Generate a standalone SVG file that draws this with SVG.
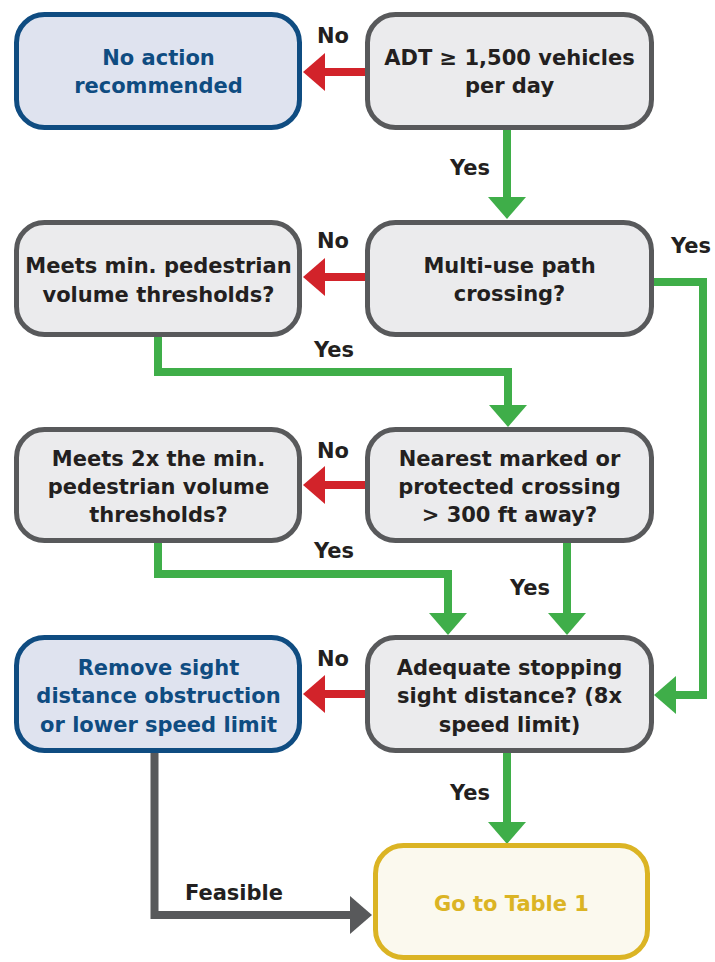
<svg xmlns="http://www.w3.org/2000/svg" width="715" height="962" viewBox="0 0 715 962">
<style>
.box{stroke-width:5}
.g{fill:#ebebed;stroke:#58595b}
.b{fill:#dfe3ef;stroke:#0f4c81}
.y{fill:#fbf9ee;stroke:#dbb424}
text{font-family:"DejaVu Sans","Liberation Sans",Arial,sans-serif;font-weight:bold;text-anchor:middle}
.t{font-size:21px;fill:#231f20}
.tb{font-size:21px;fill:#0f4c81}
.ty{font-size:21px;fill:#dbb424}
.l{font-size:21px;fill:#231f20}
.cg{fill:none;stroke:#3fae49;stroke-width:8}
.cr{fill:none;stroke:#d2232a;stroke-width:8}
.ck{fill:none;stroke:#58595b;stroke-width:8}
</style>
<defs>
<marker id="ag" markerUnits="userSpaceOnUse" viewBox="0 0 22 38" refX="0" refY="19" markerWidth="22" markerHeight="38" orient="auto"><path d="M0,0 L22,19 L0,38 z" fill="#3fae49"/></marker>
<marker id="ar" markerUnits="userSpaceOnUse" viewBox="0 0 22 38" refX="0" refY="19" markerWidth="22" markerHeight="38" orient="auto"><path d="M0,0 L22,19 L0,38 z" fill="#d2232a"/></marker>
<marker id="ak" markerUnits="userSpaceOnUse" viewBox="0 0 22 38" refX="0" refY="19" markerWidth="22" markerHeight="38" orient="auto"><path d="M0,0 L22,19 L0,38 z" fill="#58595b"/></marker>
</defs>
<g id="connectors">
<path class="cr" d="M369,72 H325" marker-end="url(#ar)"/>
<path class="cg" d="M507,130 V197" marker-end="url(#ag)"/>
<path class="cr" d="M369,277 H325" marker-end="url(#ar)"/>
<path class="cg" d="M654,282 H703 V695 H676" marker-end="url(#ag)"/>
<path class="cg" d="M158,337 V372 H508 V405" marker-end="url(#ag)"/>
<path class="cr" d="M369,485 H325" marker-end="url(#ar)"/>
<path class="cg" d="M158,543 V574 H448 V613" marker-end="url(#ag)"/>
<path class="cg" d="M567,543 V613" marker-end="url(#ag)"/>
<path class="cr" d="M369,694 H325" marker-end="url(#ar)"/>
<path class="cg" d="M507,753 V822" marker-end="url(#ag)"/>
<path class="ck" d="M154.5,753 V915 H350" marker-end="url(#ak)"/>
<text class="l" x="333" y="43">No</text>
<text class="l" x="470" y="175">Yes</text>
<text class="l" x="333" y="248">No</text>
<text class="l" x="691" y="253">Yes</text>
<text class="l" x="334" y="357">Yes</text>
<text class="l" x="333" y="458">No</text>
<text class="l" x="334" y="558">Yes</text>
<text class="l" x="530" y="595">Yes</text>
<text class="l" x="333" y="666">No</text>
<text class="l" x="470" y="800">Yes</text>
<text class="l" x="234" y="900">Feasible</text>
</g>
<g id="no-action">
<rect class="box b" x="16.5" y="14.5" width="283" height="113" rx="28"/>
<text class="tb" x="158.5" y="65">No action</text>
<text class="tb" x="158.5" y="93">recommended</text>
</g>
<g id="adt">
<rect class="box g" x="367.5" y="14.5" width="284" height="113" rx="28"/>
<text class="t" x="509.5" y="65">ADT ≥ 1,500 vehicles</text>
<text class="t" x="509.5" y="93">per day</text>
</g>
<g id="min-ped">
<rect class="box g" x="16.5" y="222.5" width="283" height="112" rx="28"/>
<text class="t" x="158.5" y="273">Meets min. pedestrian</text>
<text class="t" x="158.5" y="302">volume thresholds?</text>
</g>
<g id="multi-use">
<rect class="box g" x="367.5" y="222.5" width="284" height="112" rx="28"/>
<text class="t" x="509.5" y="273">Multi-use path</text>
<text class="t" x="509.5" y="301">crossing?</text>
</g>
<g id="two-x">
<rect class="box g" x="16.5" y="429.5" width="283" height="111" rx="28"/>
<text class="t" x="158.5" y="466">Meets 2x the min.</text>
<text class="t" x="158.5" y="494">pedestrian volume</text>
<text class="t" x="158.5" y="522">thresholds?</text>
</g>
<g id="nearest">
<rect class="box g" x="367.5" y="429.5" width="284" height="111" rx="28"/>
<text class="t" x="509.5" y="466">Nearest marked or</text>
<text class="t" x="509.5" y="494">protected crossing</text>
<text class="t" x="509.5" y="522">&gt; 300 ft away?</text>
</g>
<g id="remove">
<rect class="box b" x="16.5" y="637.5" width="283" height="113" rx="28"/>
<text class="tb" x="158.5" y="675">Remove sight</text>
<text class="tb" x="158.5" y="703">distance obstruction</text>
<text class="tb" x="158.5" y="732">or lower speed limit</text>
</g>
<g id="adequate">
<rect class="box g" x="367.5" y="637.5" width="284" height="113" rx="28"/>
<text class="t" x="509.5" y="675">Adequate stopping</text>
<text class="t" x="509.5" y="703">sight distance? (8x</text>
<text class="t" x="509.5" y="732">speed limit)</text>
</g>
<g id="table1">
<rect class="box y" x="375.5" y="845.5" width="272" height="112" rx="28"/>
<text class="ty" x="511.5" y="911">Go to Table 1</text>
</g>
</svg>
